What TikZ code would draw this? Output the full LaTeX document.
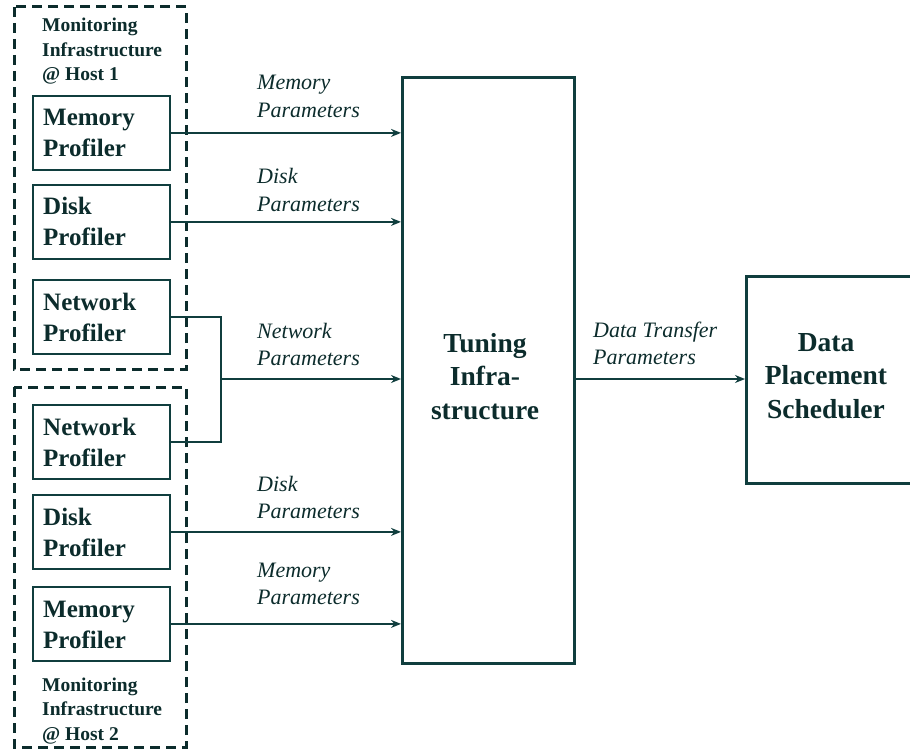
\documentclass[tikz,border=0pt]{standalone}
\usepackage{fontspec}
\setmainfont{Liberation Serif}
\usetikzlibrary{arrows.meta,calc}
\definecolor{ink}{RGB}{12,44,44}
\definecolor{lineink}{RGB}{16,62,62}
\newcommand{\twol}[2]{\begin{tabular}[t]{@{}l@{}}#1\\#2\end{tabular}}
\newcommand{\threel}[3]{\begin{tabular}[t]{@{}l@{}}#1\\#2\\#3\end{tabular}}
\newcommand{\threec}[3]{\begin{tabular}[t]{@{}c@{}}#1\\#2\\#3\end{tabular}}
\begin{document}
\begin{tikzpicture}[x=1pt,y=-1pt,
  prof/.style={draw=lineink,line width=1.8pt,minimum width=137pt,minimum height=74pt,inner sep=0pt,anchor=north west},
  big/.style={draw=lineink,line width=3pt,inner sep=0pt,anchor=north west},
  ptext/.style={anchor=base west,inner sep=0pt,text=ink,font=\fontsize{25}{31}\selectfont\bfseries},
  mtext/.style={anchor=base west,inner sep=0pt,text=ink,font=\fontsize{19.5}{24.5}\selectfont\bfseries},
  ltext/.style={anchor=base west,inner sep=0pt,text=ink,font=\fontsize{22}{27.5}\selectfont\itshape},
  ttext/.style={anchor=base,inner sep=0pt,text=ink,font=\fontsize{27.5}{33.5}\selectfont\bfseries},
  dashbox/.style={draw=ink,line width=3pt,dash pattern=on 10pt off 6pt},
  conn/.style={draw=lineink,line width=1.6pt},
  arr/.style={conn,-{Stealth[length=10pt,width=8pt]}}]
\useasboundingbox (0,0) rectangle (910,751);
\renewcommand{\arraystretch}{1}
% dashed groups
\draw[dashbox] (14,7) rectangle (186,369);
\draw[dashbox] (14,387) rectangle (186,747);
\node[mtext] (h1) at (42,32) {\threel{Monitoring}{Infrastructure}{@ Host 1}};
\node[mtext] (h2) at (42,691) {\threel{Monitoring}{Infrastructure}{@ Host 2}};
% profilers host 1
\node[prof] (mem1) at (32,95) {};
\node[prof] (disk1) at (32,184) {};
\node[prof] (net1) at (32,279) {};
% profilers host 2
\node[prof] (net2) at (32,404) {};
\node[prof] (disk2) at (32,494) {};
\node[prof] (mem2) at (32,586) {};
\node[ptext] (mem1t) at (43,126) {\twol{Memory}{Profiler}};
\node[ptext] (disk1t) at (43,215) {\twol{Disk}{Profiler}};
\node[ptext] (net1t) at (43,310) {\twol{Network}{Profiler}};
\node[ptext] (net2t) at (43,435) {\twol{Network}{Profiler}};
\node[ptext] (disk2t) at (43,525) {\twol{Disk}{Profiler}};
\node[ptext] (mem2t) at (43,617) {\twol{Memory}{Profiler}};
% tuning and scheduler
\node[big,minimum width=172pt,minimum height=586pt] (tun) at (401,76) {};
\node[ttext] (tunt) at (485,352) {\threec{Tuning}{Infra-}{structure}};
\node[big,minimum width=175pt,minimum height=207pt] (sched) at (745,275) {};
\node[ttext] (schedt) at (826,351) {\threec{Data}{Placement}{Scheduler}};
% connectors
\coordinate (j) at (221,379);
\draw[arr] (mem1.east) -- (tun.west |- mem1.east);
\draw[arr] (disk1.east) -- (tun.west |- disk1.east);
\draw[conn] (net1.east) -| (j);
\draw[conn] (net2.east) -| (j);
\draw[arr] (j) -- (tun.west |- j);
\draw[arr] (disk2.east) -- (tun.west |- disk2.east);
\draw[arr] (mem2.east) -- (tun.west |- mem2.east);
\draw[arr] (tun.east |- j) -- (sched.west |- j);
% labels
\node[ltext] (l1) at (257,90) {\twol{Memory}{Parameters}};
\node[ltext] (l2) at (257,184) {\twol{Disk}{Parameters}};
\node[ltext] (l3) at (257,338) {\twol{Network}{Parameters}};
\node[ltext] (l4) at (257,491) {\twol{Disk}{Parameters}};
\node[ltext] (l5) at (257,577) {\twol{Memory}{Parameters}};
\node[ltext] (l6) at (593,337) {\twol{Data Transfer}{Parameters}};
\end{tikzpicture}
\end{document}
